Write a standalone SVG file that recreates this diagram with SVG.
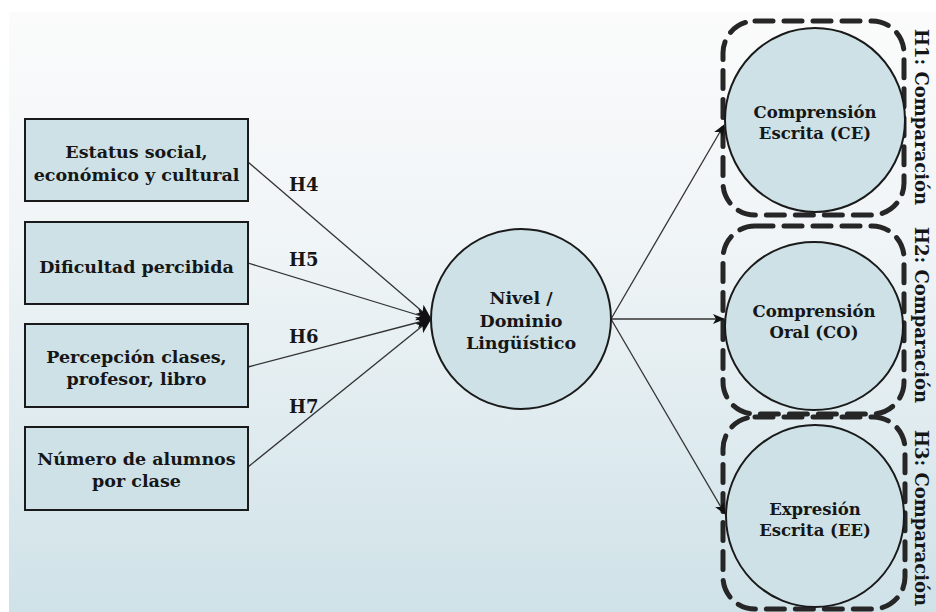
<svg xmlns="http://www.w3.org/2000/svg" width="936" height="612" viewBox="0 0 936 612">
<defs>
<linearGradient id="bg" x1="0" y1="0" x2="0" y2="1">
<stop offset="0" stop-color="#fbfbfb"/>
<stop offset="0.4" stop-color="#eff4f6"/>
<stop offset="1" stop-color="#cfe2e8"/>
</linearGradient>
<marker id="ah" viewBox="0 0 12 10" refX="11" refY="5" markerWidth="12" markerHeight="10" markerUnits="userSpaceOnUse" orient="auto">
<path d="M0,0 L12,5 L0,10 L3,5 Z" fill="#111"/>
</marker>
<marker id="ahb" viewBox="0 0 16 12" refX="15" refY="6" markerWidth="16" markerHeight="12" markerUnits="userSpaceOnUse" orient="auto">
<path d="M0,0 L16,6 L0,12 L4,6 Z" fill="#111"/>
</marker>
</defs>
<style>
.t{font-family:"DejaVu Serif","Liberation Serif",serif;font-weight:bold;font-size:17.5px;fill:#161616;text-anchor:middle}
.c{font-size:16.5px}
.r{font-size:18px}
.h{font-family:"DejaVu Serif","Liberation Serif",serif;font-weight:bold;font-size:18px;fill:#161616}
.box{fill:#cde1e6;stroke:#1a1a1a;stroke-width:2}
.node{fill:#cde1e6;stroke:#1a1a1a;stroke-width:2}
.grp{fill:none;stroke:#262626;stroke-width:5;stroke-dasharray:18 11;stroke-linecap:round}
.ln{stroke:#333;stroke-width:1.3;fill:none}
</style>
<rect x="9" y="12" width="927" height="600" fill="url(#bg)"/>

<g id="groups">
<rect x="723" y="21" width="181" height="194" rx="32" class="grp"/>
<rect x="723" y="226" width="181" height="188" rx="32" class="grp"/>
<rect x="723" y="417" width="182" height="192" rx="32" class="grp"/>
</g>

<g id="connectors">
<line x1="248" y1="162" x2="431" y2="319" class="ln" marker-end="url(#ahb)"/>
<line x1="248" y1="263" x2="431" y2="319" class="ln" marker-end="url(#ahb)"/>
<line x1="248" y1="367" x2="431" y2="319" class="ln" marker-end="url(#ahb)"/>
<line x1="248" y1="467" x2="431" y2="319" class="ln" marker-end="url(#ahb)"/>
<line x1="611" y1="319" x2="724" y2="125" class="ln" marker-end="url(#ah)"/>
<line x1="611" y1="319" x2="724" y2="319" class="ln" marker-end="url(#ah)"/>
<line x1="611" y1="319" x2="725" y2="514" class="ln" marker-end="url(#ah)"/>
<text x="289" y="191" class="h">H4</text>
<text x="289" y="266" class="h">H5</text>
<text x="289" y="343" class="h">H6</text>
<text x="289" y="413" class="h">H7</text>
</g>

<g id="n-estatus">
<rect x="25" y="119" width="223" height="82" class="box"/>
<text x="136.5" y="158" class="t">Estatus social,</text>
<text x="136.5" y="181" class="t">económico y cultural</text>
</g>
<g id="n-dificultad">
<rect x="25" y="222" width="223" height="82" class="box"/>
<text x="136.5" y="273" class="t">Dificultad percibida</text>
</g>
<g id="n-percepcion">
<rect x="25" y="324" width="223" height="83" class="box"/>
<text x="136.5" y="363" class="t">Percepción clases,</text>
<text x="136.5" y="385" class="t">profesor, libro</text>
</g>
<g id="n-numero">
<rect x="25" y="427" width="223" height="83" class="box"/>
<text x="136.5" y="465" class="t">Número de alumnos</text>
<text x="136.5" y="487" class="t">por clase</text>
</g>

<g id="n-nivel">
<circle cx="521" cy="319" r="90" class="node"/>
<text x="521" y="304" class="t">Nivel /</text>
<text x="521" y="327" class="t">Dominio</text>
<text x="521" y="349" class="t">Lingüístico</text>
</g>

<g id="n-ce">
<ellipse cx="815" cy="120" rx="90" ry="92" class="node"/>
<text x="815" y="118" class="t c">Comprensión</text>
<text x="815" y="139" class="t c">Escrita (CE)</text>
<text transform="translate(921,117) rotate(90)" class="t r" dominant-baseline="central">H1: Comparación</text>
</g>
<g id="n-co">
<ellipse cx="814" cy="326" rx="89" ry="84" class="node"/>
<text x="814" y="317" class="t c">Comprensión</text>
<text x="814" y="338" class="t c">Oral (CO)</text>
<text transform="translate(921,315) rotate(90)" class="t r" dominant-baseline="central">H2: Comparación</text>
</g>
<g id="n-ee">
<ellipse cx="815" cy="516" rx="89" ry="91" class="node"/>
<text x="815" y="515" class="t c">Expresión</text>
<text x="815" y="536" class="t c">Escrita (EE)</text>
<text transform="translate(921,518) rotate(90)" class="t r" dominant-baseline="central">H3: Comparación</text>
</g>
</svg>
